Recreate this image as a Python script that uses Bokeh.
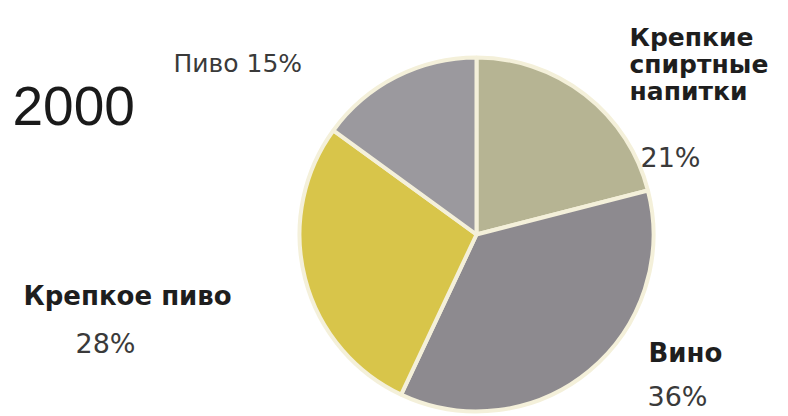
import math
from bokeh.plotting import figure
from bokeh.models import Range1d, ColumnDataSource
from bokeh.core.properties import value
from bokeh.embed import file_html
from bokeh.resources import INLINE

# data
categories = ["Крепкие спиртные напитки", "Вино", "Крепкое пиво", "Пиво"]
shares = [21, 36, 28, 15]
colors = ["#b6b493", "#8d8a8f", "#d8c54a", "#9b999e"]
year_label = "2000"

W, H = 788, 416
p = figure(width=W, height=H, output_backend="svg", toolbar_location=None,
           x_range=Range1d(0, W), y_range=Range1d(-H, 0),
           min_border=0)
p.axis.visible = False
p.grid.visible = False
p.outline_line_color = None
p.background_fill_color = "white"
p.border_fill_color = "white"

cx, cy, r = 476, -234, 177
total = sum(shares)
starts, ends = [], []
acc = 0
for s in shares:
    a0 = math.pi / 2 - 2 * math.pi * acc / total
    acc += s
    a1 = math.pi / 2 - 2 * math.pi * acc / total
    starts.append(a0)
    ends.append(a1)

src = ColumnDataSource(dict(start=starts, end=ends, color=colors, cat=categories))
p.wedge(x=cx, y=cy, radius=r, start_angle="start", end_angle="end",
        direction="clock", fill_color="color", line_color="#f4f0da",
        line_width=4, source=src)

font = value("DejaVu Sans")
# year
p.text(x=[12], y=[-105], text=[year_label], text_font=value("Liberation Sans"),
       text_font_size="55px", text_color="#1a1a1a", text_baseline="alphabetic")

# Пиво 15%
p.text(x=[173], y=[-63], text=[f"{categories[3]}  {shares[3]}%"], text_font=font,
       text_font_size="25px", text_color="#3a3a3a", text_baseline="alphabetic")

# Крепкие спиртные напитки
p.text(x=[629, 629, 629], y=[-37, -64, -91],
       text=["Крепкие", "спиртные", "напитки"], text_font=font,
       text_font_size="25px", text_font_style="bold", text_color="#1e1e1e",
       text_baseline="alphabetic")
p.text(x=[640], y=[-157], text=[f"{shares[0]}%"], text_font=font,
       text_font_size="27px", text_color="#3a3a3a", text_baseline="alphabetic")

# Крепкое пиво
p.text(x=[23], y=[-295], text=[categories[2]], text_font=font,
       text_font_size="26px", text_font_style="bold", text_color="#1e1e1e",
       text_baseline="alphabetic")
p.text(x=[75], y=[-343], text=[f"{shares[2]}%"], text_font=font,
       text_font_size="27px", text_color="#3a3a3a", text_baseline="alphabetic")

# Вино
p.text(x=[648], y=[-352], text=[categories[1]], text_font=font,
       text_font_size="26px", text_font_style="bold", text_color="#1e1e1e",
       text_baseline="alphabetic")
p.text(x=[647], y=[-396], text=[f"{shares[1]}%"], text_font=font,
       text_font_size="27px", text_color="#3a3a3a", text_baseline="alphabetic")

open("out.html", "w").write(file_html(p, INLINE))
